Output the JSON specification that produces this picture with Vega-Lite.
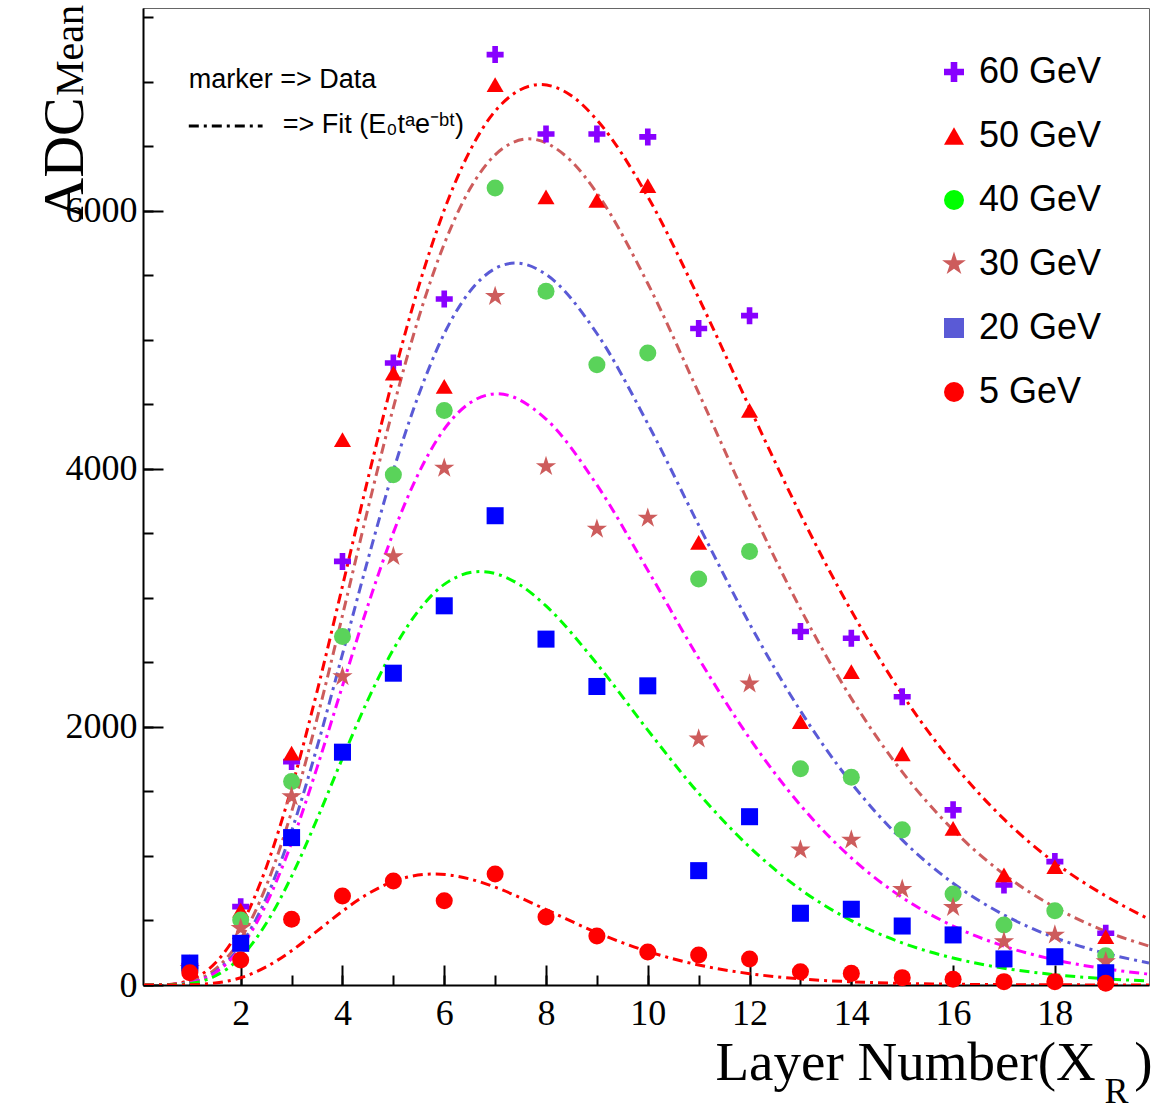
{
  "$schema": "https://vega.github.io/schema/vega-lite/v6.json",
  "width": 1006,
  "height": 977,
  "autosize": {"type": "none"},
  "padding": {"left": 143, "top": 8, "right": 3, "bottom": 124},
  "background": "white",
  "config": {
    "view": {"stroke": "#666666", "strokeWidth": 1},
    "axis": {"grid": false, "labelOverlap": false, "labelFlush": false}
  },
  "datasets": {
    "markers": [
      {"s":"60 GeV","x":1,"y":150},{"s":"60 GeV","x":2,"y":607},{"s":"60 GeV","x":3,"y":1731},{"s":"60 GeV","x":4,"y":3282},{"s":"60 GeV","x":5,"y":4819},{"s":"60 GeV","x":6,"y":5315},{"s":"60 GeV","x":7,"y":7209},{"s":"60 GeV","x":8,"y":6594},{"s":"60 GeV","x":9,"y":6594},{"s":"60 GeV","x":10,"y":6571},{"s":"60 GeV","x":11,"y":5087},{"s":"60 GeV","x":12,"y":5186},{"s":"60 GeV","x":13,"y":2739},{"s":"60 GeV","x":14,"y":2687},{"s":"60 GeV","x":15,"y":2233},{"s":"60 GeV","x":16,"y":1357},{"s":"60 GeV","x":17,"y":775},{"s":"60 GeV","x":18,"y":956},{"s":"60 GeV","x":19,"y":401},
      {"s":"50 GeV","x":1,"y":180},{"s":"50 GeV","x":2,"y":580},{"s":"50 GeV","x":3,"y":1796},{"s":"50 GeV","x":4,"y":4225},{"s":"50 GeV","x":5,"y":4741},{"s":"50 GeV","x":6,"y":4638},{"s":"50 GeV","x":7,"y":6977},{"s":"50 GeV","x":8,"y":6106},{"s":"50 GeV","x":9,"y":6080},{"s":"50 GeV","x":10,"y":6194},{"s":"50 GeV","x":11,"y":3429},{"s":"50 GeV","x":12,"y":4452},{"s":"50 GeV","x":13,"y":2041},{"s":"50 GeV","x":14,"y":2429},{"s":"50 GeV","x":15,"y":1791},{"s":"50 GeV","x":16,"y":1214},{"s":"50 GeV","x":17,"y":853},{"s":"50 GeV","x":18,"y":917},{"s":"50 GeV","x":19,"y":375},
      {"s":"40 GeV","x":1,"y":130},{"s":"40 GeV","x":2,"y":504},{"s":"40 GeV","x":3,"y":1576},{"s":"40 GeV","x":4,"y":2700},{"s":"40 GeV","x":5,"y":3953},{"s":"40 GeV","x":6,"y":4452},{"s":"40 GeV","x":7,"y":6176},{"s":"40 GeV","x":8,"y":5375},{"s":"40 GeV","x":9,"y":4806},{"s":"40 GeV","x":10,"y":4897},{"s":"40 GeV","x":11,"y":3145},{"s":"40 GeV","x":12,"y":3359},{"s":"40 GeV","x":13,"y":1676},{"s":"40 GeV","x":14,"y":1610},{"s":"40 GeV","x":15,"y":1202},{"s":"40 GeV","x":16,"y":705},{"s":"40 GeV","x":17,"y":465},{"s":"40 GeV","x":18,"y":576},{"s":"40 GeV","x":19,"y":227},
      {"s":"30 GeV","x":1,"y":130},{"s":"30 GeV","x":2,"y":440},{"s":"30 GeV","x":3,"y":1460},{"s":"30 GeV","x":4,"y":2390},{"s":"30 GeV","x":5,"y":3320},{"s":"30 GeV","x":6,"y":4005},{"s":"30 GeV","x":7,"y":5336},{"s":"30 GeV","x":8,"y":4018},{"s":"30 GeV","x":9,"y":3533},{"s":"30 GeV","x":10,"y":3618},{"s":"30 GeV","x":11,"y":1907},{"s":"30 GeV","x":12,"y":2333},{"s":"30 GeV","x":13,"y":1047},{"s":"30 GeV","x":14,"y":1124},{"s":"30 GeV","x":15,"y":742},{"s":"30 GeV","x":16,"y":602},{"s":"30 GeV","x":17,"y":336},{"s":"30 GeV","x":18,"y":388},{"s":"30 GeV","x":19,"y":181},
      {"s":"20 GeV","x":1,"y":170},{"s":"20 GeV","x":2,"y":323},{"s":"20 GeV","x":3,"y":1142},{"s":"20 GeV","x":4,"y":1804},{"s":"20 GeV","x":5,"y":2416},{"s":"20 GeV","x":6,"y":2938},{"s":"20 GeV","x":7,"y":3636},{"s":"20 GeV","x":8,"y":2680},{"s":"20 GeV","x":9,"y":2313},{"s":"20 GeV","x":10,"y":2318},{"s":"20 GeV","x":11,"y":886},{"s":"20 GeV","x":12,"y":1304},{"s":"20 GeV","x":13,"y":556},{"s":"20 GeV","x":14,"y":587},{"s":"20 GeV","x":15,"y":457},{"s":"20 GeV","x":16,"y":388},{"s":"20 GeV","x":17,"y":202},{"s":"20 GeV","x":18,"y":219},{"s":"20 GeV","x":19,"y":95},
      {"s":"5 GeV","x":1,"y":95},{"s":"5 GeV","x":2,"y":194},{"s":"5 GeV","x":3,"y":509},{"s":"5 GeV","x":4,"y":690},{"s":"5 GeV","x":5,"y":806},{"s":"5 GeV","x":6,"y":653},{"s":"5 GeV","x":7,"y":860},{"s":"5 GeV","x":8,"y":527},{"s":"5 GeV","x":9,"y":380},{"s":"5 GeV","x":10,"y":256},{"s":"5 GeV","x":11,"y":233},{"s":"5 GeV","x":12,"y":202},{"s":"5 GeV","x":13,"y":103},{"s":"5 GeV","x":14,"y":90},{"s":"5 GeV","x":15,"y":57},{"s":"5 GeV","x":16,"y":44},{"s":"5 GeV","x":17,"y":26},{"s":"5 GeV","x":18,"y":26},{"s":"5 GeV","x":19,"y":13}
    ],
    "fits": [
      {"fit":"fit60","t":0.1,"v":0},{"fit":"fit60","t":0.5,"v":2},{"fit":"fit60","t":1,"v":38},{"fit":"fit60","t":1.5,"v":170},{"fit":"fit60","t":2,"v":452},{"fit":"fit60","t":2.5,"v":909},{"fit":"fit60","t":3,"v":1529},{"fit":"fit60","t":3.5,"v":2274},{"fit":"fit60","t":4,"v":3091},{"fit":"fit60","t":4.5,"v":3921},{"fit":"fit60","t":5,"v":4710},{"fit":"fit60","t":5.5,"v":5415},{"fit":"fit60","t":6,"v":6005},{"fit":"fit60","t":6.5,"v":6460},{"fit":"fit60","t":7,"v":6771},{"fit":"fit60","t":7.89,"v":6977},{"fit":"fit60","t":8.5,"v":6890},{"fit":"fit60","t":9,"v":6703},{"fit":"fit60","t":10,"v":6108},{"fit":"fit60","t":11,"v":5324},{"fit":"fit60","t":12,"v":4475},{"fit":"fit60","t":13,"v":3647},{"fit":"fit60","t":14,"v":2899},{"fit":"fit60","t":15,"v":2252},{"fit":"fit60","t":16,"v":1716},{"fit":"fit60","t":17,"v":1285},{"fit":"fit60","t":18,"v":948},{"fit":"fit60","t":19,"v":690},{"fit":"fit60","t":19.85,"v":510},
      {"fit":"fit50","t":0.1,"v":0},{"fit":"fit50","t":0.5,"v":1},{"fit":"fit50","t":1,"v":24},{"fit":"fit50","t":1.5,"v":122},{"fit":"fit50","t":2,"v":357},{"fit":"fit50","t":2.5,"v":765},{"fit":"fit50","t":3,"v":1343},{"fit":"fit50","t":3.5,"v":2063},{"fit":"fit50","t":4,"v":2864},{"fit":"fit50","t":4.5,"v":3689},{"fit":"fit50","t":5,"v":4474},{"fit":"fit50","t":5.5,"v":5173},{"fit":"fit50","t":6,"v":5742},{"fit":"fit50","t":6.5,"v":6165},{"fit":"fit50","t":7,"v":6432},{"fit":"fit50","t":7.66,"v":6556},{"fit":"fit50","t":8.5,"v":6382},{"fit":"fit50","t":9,"v":6136},{"fit":"fit50","t":10,"v":5435},{"fit":"fit50","t":11,"v":4587},{"fit":"fit50","t":12,"v":3718},{"fit":"fit50","t":13,"v":2915},{"fit":"fit50","t":14,"v":2221},{"fit":"fit50","t":15,"v":1651},{"fit":"fit50","t":16,"v":1202},{"fit":"fit50","t":17,"v":858},{"fit":"fit50","t":18,"v":602},{"fit":"fit50","t":19,"v":416},{"fit":"fit50","t":19.85,"v":301},
      {"fit":"fit40","t":0.1,"v":0},{"fit":"fit40","t":0.5,"v":1},{"fit":"fit40","t":1,"v":19},{"fit":"fit40","t":1.5,"v":102},{"fit":"fit40","t":2,"v":308},{"fit":"fit40","t":2.5,"v":672},{"fit":"fit40","t":3,"v":1193},{"fit":"fit40","t":3.5,"v":1842},{"fit":"fit40","t":4,"v":2564},{"fit":"fit40","t":4.5,"v":3296},{"fit":"fit40","t":5,"v":3986},{"fit":"fit40","t":5.5,"v":4575},{"fit":"fit40","t":6,"v":5047},{"fit":"fit40","t":6.5,"v":5372},{"fit":"fit40","t":7,"v":5551},{"fit":"fit40","t":7.4,"v":5594},{"fit":"fit40","t":8,"v":5506},{"fit":"fit40","t":9,"v":5048},{"fit":"fit40","t":10,"v":4349},{"fit":"fit40","t":11,"v":3563},{"fit":"fit40","t":12,"v":2799},{"fit":"fit40","t":13,"v":2124},{"fit":"fit40","t":14,"v":1565},{"fit":"fit40","t":15,"v":1124},{"fit":"fit40","t":16,"v":789},{"fit":"fit40","t":17,"v":543},{"fit":"fit40","t":18,"v":367},{"fit":"fit40","t":19,"v":245},{"fit":"fit40","t":19.85,"v":171},
      {"fit":"fit30","t":0.1,"v":0},{"fit":"fit30","t":0.5,"v":1},{"fit":"fit30","t":1,"v":17},{"fit":"fit30","t":1.5,"v":95},{"fit":"fit30","t":2,"v":287},{"fit":"fit30","t":2.5,"v":625},{"fit":"fit30","t":3,"v":1102},{"fit":"fit30","t":3.5,"v":1684},{"fit":"fit30","t":4,"v":2318},{"fit":"fit30","t":4.5,"v":2941},{"fit":"fit30","t":5,"v":3505},{"fit":"fit30","t":5.5,"v":3968},{"fit":"fit30","t":6,"v":4307},{"fit":"fit30","t":6.5,"v":4509},{"fit":"fit30","t":7.04,"v":4581},{"fit":"fit30","t":8,"v":4385},{"fit":"fit30","t":9,"v":3875},{"fit":"fit30","t":10,"v":3214},{"fit":"fit30","t":11,"v":2531},{"fit":"fit30","t":12,"v":1912},{"fit":"fit30","t":13,"v":1393},{"fit":"fit30","t":14,"v":985},{"fit":"fit30","t":15,"v":678},{"fit":"fit30","t":16,"v":457},{"fit":"fit30","t":17,"v":301},{"fit":"fit30","t":18,"v":195},{"fit":"fit30","t":19,"v":125},{"fit":"fit30","t":19.85,"v":84},
      {"fit":"fit20","t":0.1,"v":0},{"fit":"fit20","t":0.5,"v":0},{"fit":"fit20","t":1,"v":12},{"fit":"fit20","t":1.5,"v":70},{"fit":"fit20","t":2,"v":216},{"fit":"fit20","t":2.5,"v":476},{"fit":"fit20","t":3,"v":842},{"fit":"fit20","t":3.5,"v":1285},{"fit":"fit20","t":4,"v":1757},{"fit":"fit20","t":4.5,"v":2209},{"fit":"fit20","t":5,"v":2600},{"fit":"fit20","t":5.5,"v":2903},{"fit":"fit20","t":6,"v":3104},{"fit":"fit20","t":6.71,"v":3204},{"fit":"fit20","t":7.5,"v":3097},{"fit":"fit20","t":8,"v":2937},{"fit":"fit20","t":9,"v":2489},{"fit":"fit20","t":10,"v":1975},{"fit":"fit20","t":11,"v":1485},{"fit":"fit20","t":12,"v":1069},{"fit":"fit20","t":13,"v":741},{"fit":"fit20","t":14,"v":499},{"fit":"fit20","t":15,"v":326},{"fit":"fit20","t":16,"v":209},{"fit":"fit20","t":17,"v":130},{"fit":"fit20","t":18,"v":80},{"fit":"fit20","t":19,"v":48},{"fit":"fit20","t":19.85,"v":31},
      {"fit":"fit5","t":0.1,"v":0},{"fit":"fit5","t":0.5,"v":0},{"fit":"fit5","t":1,"v":2},{"fit":"fit5","t":1.5,"v":15},{"fit":"fit5","t":2,"v":56},{"fit":"fit5","t":2.5,"v":140},{"fit":"fit5","t":3,"v":265},{"fit":"fit5","t":3.5,"v":417},{"fit":"fit5","t":4,"v":572},{"fit":"fit5","t":4.5,"v":706},{"fit":"fit5","t":5,"v":802},{"fit":"fit5","t":5.8,"v":860},{"fit":"fit5","t":6.5,"v":822},{"fit":"fit5","t":7,"v":758},{"fit":"fit5","t":8,"v":585},{"fit":"fit5","t":9,"v":406},{"fit":"fit5","t":10,"v":260},{"fit":"fit5","t":11,"v":155},{"fit":"fit5","t":12,"v":88},{"fit":"fit5","t":13,"v":47},{"fit":"fit5","t":14,"v":25},{"fit":"fit5","t":15,"v":12},{"fit":"fit5","t":16,"v":6},{"fit":"fit5","t":17,"v":3},{"fit":"fit5","t":18,"v":1.5},{"fit":"fit5","t":19,"v":0.7},{"fit":"fit5","t":19.85,"v":0.3}
    ]
  },
  "layer": [
    {
      "data": {"name": "fits"},
      "mark": {"type": "line", "strokeDash": [10, 5, 3, 5], "strokeWidth": 3, "interpolate": "monotone", "clip": true},
      "encoding": {
        "x": {
          "field": "t", "type": "quantitative",
          "scale": {"domain": [0.08, 19.85], "nice": false, "zero": false},
          "axis": {
            "orient": "bottom", "values": [2, 4, 6, 8, 10, 12, 14, 16, 18],
            "ticks": false, "labels": true, "labelFont": "Liberation Serif", "labelFontSize": 36,
            "labelColor": "black", "labelPadding": 11, "labelBaseline": "top",
            "domain": true, "domainColor": "black", "domainWidth": 2,
            "title": "Layer Number(X\u2002\u2009)", "titleFont": "Liberation Serif", "titleFontSize": 55,
            "titleFontWeight": "normal", "titleColor": "black",
            "titleX": 572, "titleY": 94, "titleAlign": "left", "titleBaseline": "alphabetic"
          }
        },
        "y": {
          "field": "v", "type": "quantitative",
          "scale": {"domain": [0, 7570], "nice": false, "zero": false},
          "axis": {
            "orient": "left", "values": [0, 2000, 4000, 6000], "format": "d",
            "ticks": false, "labels": true, "labelFont": "Liberation Serif", "labelFontSize": 36,
            "labelColor": "black", "labelPadding": 6,
            "domain": true, "domainColor": "black", "domainWidth": 2,
            "title": "ADC", "titleFont": "Liberation Serif", "titleFontSize": 58,
            "titleFontWeight": "normal", "titleColor": "black", "titleAngle": 270,
            "titleX": -61, "titleY": 150, "titleAlign": "center", "titleBaseline": "alphabetic"
          }
        },
        "stroke": {
          "field": "fit", "type": "nominal",
          "scale": {"domain": ["fit60", "fit50", "fit40", "fit30", "fit20", "fit5"],
                    "range": ["#ff0000", "#cd5c5c", "#5a5ad6", "#ff00ff", "#00ff00", "#ff0000"]},
          "legend": null
        }
      }
    },
    {
      "data": {"name": "markers"},
      "mark": {"type": "point", "filled": true, "opacity": 0},
      "encoding": {
        "x": {"field": "x", "type": "quantitative", "axis": null},
        "y": {"field": "y", "type": "quantitative", "axis": null},
        "color": {
          "field": "s", "type": "nominal",
          "scale": {"domain": ["60 GeV", "50 GeV", "40 GeV", "30 GeV", "20 GeV", "5 GeV"],
                    "range": ["#8800ff", "#ff0000", "#00ff00", "#cd5c5c", "#5a5ad6", "#ff0000"]},
          "legend": {
            "orient": "none", "legendX": 793, "legendY": 46, "direction": "vertical",
            "title": null, "labelFont": "Liberation Sans", "labelFontSize": 36, "labelColor": "black",
            "symbolSize": 400, "labelOffset": 7, "rowPadding": 28,
            "symbolStrokeWidth": 0, "symbolOpacity": 1
          }
        },
        "shape": {
          "field": "s", "type": "nominal",
          "scale": {"domain": ["60 GeV", "50 GeV", "40 GeV", "30 GeV", "20 GeV", "5 GeV"],
                    "range": ["M-1,-0.33L-0.33,-0.33L-0.33,-1L0.33,-1L0.33,-0.33L1,-0.33L1,0.33L0.33,0.33L0.33,1L-0.33,1L-0.33,0.33L-1,0.33Z",
                              "triangle-up", "circle",
                              "M0,-1.25L0.2806,-0.3863L1.1889,-0.3863L0.4541,0.1475L0.7348,1.0113L0,0.4775L-0.7348,1.0113L-0.4541,0.1475L-1.1889,-0.3863L-0.2806,-0.3863Z",
                              "square", "circle"]},
          "legend": {
            "orient": "none", "legendX": 793, "legendY": 46, "direction": "vertical",
            "title": null, "labelFont": "Liberation Sans", "labelFontSize": 36, "labelColor": "black",
            "symbolSize": 400, "labelOffset": 7, "rowPadding": 28,
            "symbolStrokeWidth": 0, "symbolOpacity": 1
          }
        }
      }
    },
    {
      "data": {"name": "markers"},
      "mark": {"type": "point", "filled": true, "size": 290, "opacity": 1, "strokeWidth": 0},
      "encoding": {
        "x": {
          "field": "x", "type": "quantitative",
          "axis": {
            "orient": "bottom", "values": [1,2,3,4,5,6,7,8,9,10,11,12,13,14,15,16,17,18,19],
            "ticks": true, "tickSize": -10, "tickWidth": 2, "tickColor": "black",
            "labels": false, "domain": false,
            "title": "R", "titleFont": "Liberation Serif", "titleFontSize": 36,
            "titleFontWeight": "normal", "titleColor": "black",
            "titleX": 961, "titleY": 117, "titleAlign": "left", "titleBaseline": "alphabetic"
          }
        },
        "y": {
          "field": "y", "type": "quantitative",
          "axis": {
            "orient": "left", "values": [0,500,1000,1500,2000,2500,3000,3500,4000,4500,5000,5500,6000,6500,7000,7500],
            "ticks": true, "tickSize": -10, "tickWidth": 2, "tickColor": "black",
            "labels": false, "domain": false,
            "title": "Mean", "titleFont": "Liberation Serif", "titleFontSize": 40,
            "titleFontWeight": "normal", "titleColor": "black", "titleAngle": 270,
            "titleX": -61, "titleY": 42, "titleAlign": "center", "titleBaseline": "alphabetic"
          }
        },
        "fill": {
          "field": "s", "type": "nominal",
          "scale": {"domain": ["5 GeV", "20 GeV", "30 GeV", "40 GeV", "50 GeV", "60 GeV"],
                    "range": ["#ff0000", "#0000ff", "#cd5c5c", "#5ad35a", "#ff0000", "#8800ff"]},
          "legend": null
        },
        "shape": {"field": "s", "type": "nominal"}
      }
    },
    {
      "data": {"values": [{}]},
      "mark": {"type": "text", "align": "left", "baseline": "alphabetic", "font": "Liberation Sans", "fontSize": 27, "color": "black"},
      "encoding": {
        "x": {
          "datum": 0.98, "type": "quantitative",
          "axis": {
            "orient": "bottom", "values": [2, 4, 6, 8, 10, 12, 14, 16, 18],
            "ticks": true, "tickSize": -20, "tickWidth": 2, "tickColor": "black",
            "labels": false, "domain": false, "title": null
          }
        },
        "y": {
          "datum": 6950, "type": "quantitative",
          "axis": {
            "orient": "left", "values": [0, 2000, 4000, 6000],
            "ticks": true, "tickSize": -20, "tickWidth": 2, "tickColor": "black",
            "labels": false, "domain": false, "title": null
          }
        },
        "text": {"value": "marker => Data"}
      }
    },
    {
      "data": {"values": [{}]},
      "mark": {"type": "text", "align": "left", "baseline": "alphabetic", "font": "Liberation Sans", "fontSize": 27, "color": "black"},
      "encoding": {
        "x": {"datum": 2.825, "type": "quantitative", "axis": null},
        "y": {"datum": 6601, "type": "quantitative", "axis": null},
        "text": {"value": "=> Fit (E\u2080t\u1d43e\u207b\u1d47\u1d57)"}
      }
    },
    {
      "data": {"values": [{}]},
      "mark": {"type": "rule", "strokeDash": [10, 5, 3, 5], "strokeWidth": 3, "color": "black"},
      "encoding": {
        "x": {"datum": 0.98, "type": "quantitative", "axis": null},
        "x2": {"datum": 2.43},
        "y": {"datum": 6656, "type": "quantitative", "axis": null}
      }
    }
  ],
  "resolve": {"axis": {"x": "independent", "y": "independent"}}
}
